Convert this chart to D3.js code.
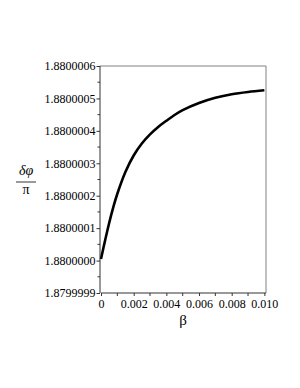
<!DOCTYPE html>
<html>
<head>
<meta charset="utf-8">
<script src="https://cdn.jsdelivr.net/npm/d3@7"></script>
<style>
  body { margin: 0; background: #fff; }
  text { font-family: "Liberation Serif", serif; fill: #000; }
</style>
</head>
<body>
<svg id="chart" width="300" height="388"></svg>
<script>
// beta values along the curve
const beta = [0, 0.00025, 0.0005, 0.00075, 0.001, 0.0015, 0.002, 0.0025, 0.003,
  0.0035, 0.004, 0.0045, 0.005, 0.006, 0.007, 0.008, 0.009, 0.010];
// delta phi / pi
const dphi = [1.880000005, 1.880000062, 1.880000116, 1.880000164, 1.880000206,
  1.880000274, 1.880000324, 1.880000361, 1.880000389, 1.880000412, 1.880000431,
  1.880000449, 1.880000464, 1.880000486, 1.880000502, 1.880000513, 1.880000520,
  1.880000525];
const xTicks = [0, 0.002, 0.004, 0.006, 0.008, 0.010];
const yTicks = [1.8799999, 1.8800000, 1.8800001, 1.8800002, 1.8800003,
  1.8800004, 1.8800005, 1.8800006];

const svg = d3.select("#chart");
const plotL = 100, plotR = 266, plotT = 66, plotB = 293;

const x = d3.scaleLinear().domain([0, 0.0101]).range([plotL + 1, plotR]);
const y = d3.scaleLinear().domain([1.8799999, 1.8800006]).range([plotB, plotT]);

// frame (top and right)
svg.append("path")
  .attr("d", `M${plotL},${plotT}H${plotR}V${plotB}`)
  .attr("fill", "none")
  .attr("stroke", "#808080")
  .attr("stroke-width", 1);

// minor ticks
const xMinor = d3.range(1, 10, 2).map(d => d / 1000);
svg.append("g").selectAll("line").data(xMinor).join("line")
  .attr("x1", d => x(d)).attr("x2", d => x(d))
  .attr("y1", plotB).attr("y2", plotB + 3)
  .attr("stroke", "#333");
const yMinor = d3.range(7).map(i => 1.8799999 + (i + 0.5) * 1e-7);
svg.append("g").selectAll("line").data(yMinor).join("line")
  .attr("x1", plotL - 2.5).attr("x2", plotL)
  .attr("y1", d => y(d)).attr("y2", d => y(d))
  .attr("stroke", "#333");

// axes
const xAxis = svg.append("g")
  .attr("transform", `translate(0,${plotB})`)
  .call(d3.axisBottom(x).tickValues(xTicks)
    .tickFormat(d => d === 0 ? "0" : d3.format(".3f")(d))
    .tickSize(3).tickPadding(3));
const yAxis = svg.append("g")
  .attr("transform", `translate(${plotL},0)`)
  .call(d3.axisLeft(y).tickValues(yTicks).tickFormat(d3.format(".7f"))
    .tickSize(3.5).tickPadding(1));

[xAxis, yAxis].forEach(g => {
  g.select(".domain").attr("stroke", "#333");
  g.selectAll(".tick line").attr("stroke", "#333");
  g.selectAll("text").style("font-size", "12px")
    .style("font-family", "Liberation Serif, serif").attr("fill", "#000");
});
// domain lines extend to the plot box
xAxis.select(".domain").attr("d", `M${plotL + 1},0H${plotR}`);
yAxis.select(".domain").attr("d", `M0,${plotB}V${plotT}`);

// curve
const line = d3.line()
  .x((d, i) => x(beta[i]))
  .y(d => y(d))
  .curve(d3.curveCatmullRom.alpha(0.5));
svg.append("path")
  .datum(dphi)
  .attr("d", line)
  .attr("fill", "none")
  .attr("stroke", "#000")
  .attr("stroke-width", 2.6);

// axis labels
svg.append("text")
  .attr("x", 183).attr("y", 325)
  .attr("text-anchor", "middle")
  .style("font-size", "15px")
  .text("β");

const yl = svg.append("g").attr("transform", "translate(26,0)");
yl.append("text")
  .attr("x", 0).attr("y", 175)
  .attr("text-anchor", "middle")
  .style("font-size", "14px")
  .style("font-style", "italic")
  .text("δφ");
yl.append("line")
  .attr("x1", -10).attr("x2", 10)
  .attr("y1", 182).attr("y2", 182)
  .attr("stroke", "#000").attr("stroke-width", 0.8);
yl.append("text")
  .attr("x", 0).attr("y", 194)
  .attr("text-anchor", "middle")
  .style("font-size", "14px")
  .text("π");
</script>
</body>
</html>
